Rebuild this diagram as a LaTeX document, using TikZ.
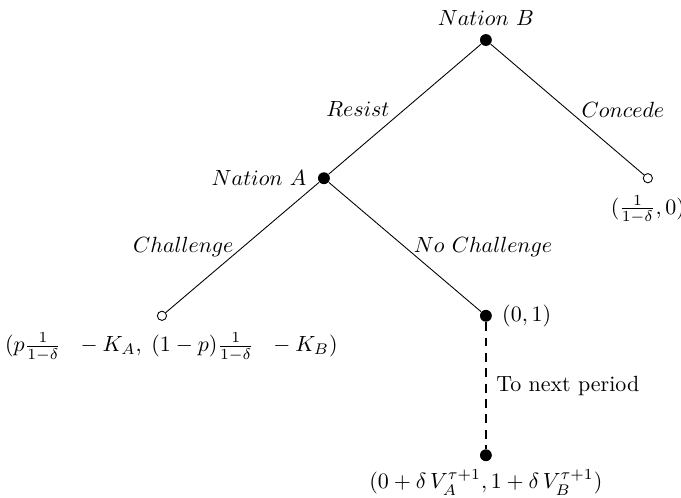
\documentclass[tikz,border=0pt]{standalone}
\usetikzlibrary{positioning}
\begin{document}
\begin{tikzpicture}[every node/.style={font=\normalsize},
  decision/.style={circle, fill=black, inner sep=0pt, minimum size=5.4pt},
  terminal/.style={circle, draw=black, fill=white, inner sep=0pt, minimum size=4.2pt},
  period/.style={thick, dash pattern=on 4pt off 3pt}]
  \useasboundingbox (-7.77,-7.31) rectangle (3.12,0.64);

  % decision nodes
  \node[decision] (natB) at (0,0) {};
  \node[decision] (natA) at (-2.59,-2.21) {};
  \node[decision] (nochal) at (0,-4.41) {};
  \node[decision] (next) at (0,-6.64) {};

  % end nodes
  \node[terminal] (concede) at (2.59,-2.21) {};
  \node[terminal] (challenge) at (-5.18,-4.41) {};

  % branches
  \draw (natB) -- node[left=3.5pt] {$Resist$} (natA);
  \draw (natB) -- node[right=3pt] {$Concede$} (concede);
  \draw (natA) -- node[left=0.5pt] {$Challenge$} (challenge);
  \draw (natA) -- node[right=0.5pt] {$No\ Challenge$} (nochal);
  \draw[period] (nochal) -- node[right=1pt] {To next period} (next);

  % players
  \node[above=0pt of natB] (lblB) {$Nation\ B$};
  \node[left=1.5pt of natA] (lblA) {$Nation\ A$};

  % payoffs
  \node[below=2pt of concede] (payC) {$(\frac{1}{1-\delta},0)$};
  \node[below=2pt of challenge, xshift=4.3pt] (payCh)
    {$(p\frac{1}{1-\delta}\ \ -K_A,\; (1-p)\frac{1}{1-\delta}\ \ -K_B)$};
  \node[right=1pt of nochal] (payN) {$(0,1)$};
  \node[below=0pt of next] (payNext)
    {$(0+\delta\, V_A^{\tau+1}, 1+\delta\, V_B^{\tau+1})$};
\end{tikzpicture}
\end{document}
